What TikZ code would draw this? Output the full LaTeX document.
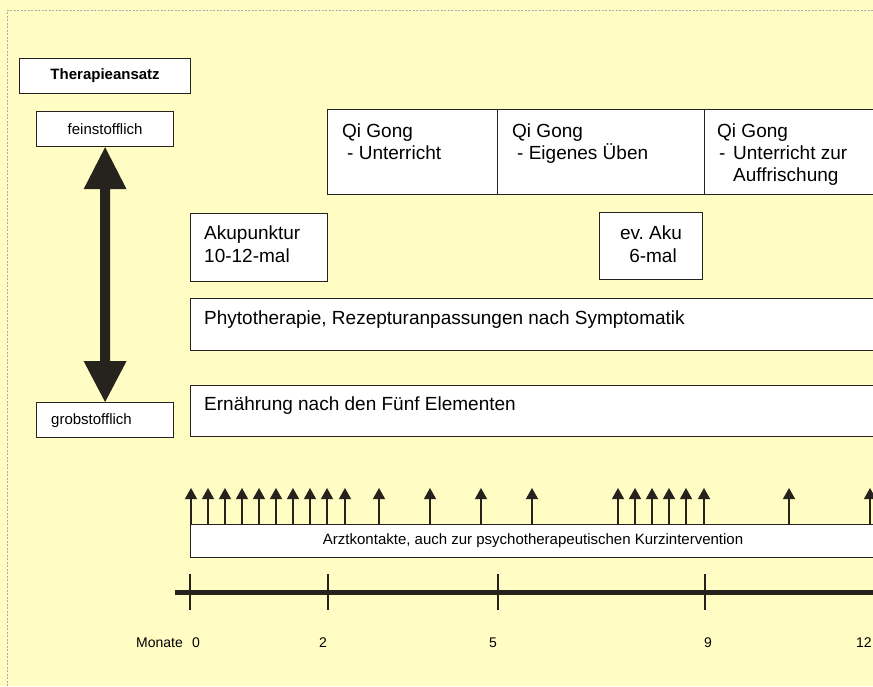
\documentclass[tikz,border=0pt]{standalone}
\usepackage{fontspec}
\setmainfont{Liberation Sans}
\usetikzlibrary{arrows.meta}
\definecolor{bgyellow}{RGB}{255,252,196}
\definecolor{ink}{RGB}{38,34,30}
\frenchspacing
\begin{document}
\begin{tikzpicture}[x=1pt,y=-1pt,
  box/.style={draw=ink, line width=1.2pt, fill=white, inner sep=0pt, anchor=north west},
  bigtxt/.style={font=\fontsize{19}{23}\selectfont, inner sep=0pt, anchor=base west},
  smalltxt/.style={font=\fontsize{15}{18}\selectfont, inner sep=0pt},
  axistxt/.style={font=\fontsize{14}{17}\selectfont, inner sep=0pt, anchor=base},
  contact/.style={draw=ink, line width=1.3pt, -{Triangle[width=12pt,length=11pt]}},
  tick/.style={draw=ink, line width=1.1pt},
]
\useasboundingbox (0,0) rectangle (873,686);
\fill[bgyellow] (0,0) rectangle (873,686);
\clip (0,0) rectangle (873,686);
\draw[gray!65, line width=0.8pt, dash pattern=on 2pt off 1.5pt] (7,686) -- (7,10) -- (873,10);

% left column
\node[box, smalltxt, font=\fontsize{15}{18}\selectfont\bfseries, minimum width=171pt, minimum height=35pt] (ansatz) at (19,58) {Therapieansatz};
\node[box, smalltxt, minimum width=137pt, minimum height=35pt] (fein) at (36,111) {feinstofflich};
\node[box, minimum width=137pt, minimum height=35pt] (grob) at (36,402) {};
\node[smalltxt, anchor=base west] (grobtxt) at (51,424) {grobstofflich};

% double arrow
\coordinate (T) at (fein.south);
\coordinate (B) at (grob.north);
\fill[ink] (T) -- ([shift={(21.5,42)}]T) -- ([shift={(5,42)}]T)
  -- ([shift={(5,-41)}]B) -- ([shift={(21.5,-41)}]B) -- (B)
  -- ([shift={(-21.5,-41)}]B) -- ([shift={(-5,-41)}]B)
  -- ([shift={(-5,42)}]T) -- ([shift={(-21.5,42)}]T) -- cycle;

% Qi Gong
\node[box, minimum width=170pt, minimum height=85pt] (qi1) at (327,109) {};
\node[box, minimum width=207pt, minimum height=85pt] (qi2) at (497,109) {};
\node[box, minimum width=175pt, minimum height=85pt] (qi3) at (704,109) {};
\node[bigtxt] (qi1a) at (342,137) {Qi Gong};
\node[bigtxt] (qi1b) at (347,159) {- Unterricht};
\node[bigtxt] (qi2a) at (512,137) {Qi Gong};
\node[bigtxt] (qi2b) at (517,159) {- Eigenes Üben};
\node[bigtxt] (qi3a) at (717,137) {Qi Gong};
\node[bigtxt] (qi3b) at (719,159) {-};
\node[bigtxt] (qi3c) at (733,159) {Unterricht zur};
\node[bigtxt] (qi3d) at (733,181) {Auffrischung};

% Akupunktur
\node[box, minimum width=137pt, minimum height=68pt] (aku) at (190,213) {};
\node[bigtxt] (akua) at (204,239) {Akupunktur};
\node[bigtxt] (akub) at (204,262) {10-12-mal};
\node[box, minimum width=103pt, minimum height=67pt] (evaku) at (599,212) {};
\node[bigtxt, anchor=base] (evakua) at (651,239) {ev.\ Aku};
\node[bigtxt, anchor=base] (evakub) at (653,262) {6-mal};

% Phyto / Ernaehrung
\node[box, minimum width=685pt, minimum height=52pt] (phyto) at (190,298) {};
\node[bigtxt] (phytot) at (204,324) {Phytotherapie, Rezepturanpassungen nach Symptomatik};
\node[box, minimum width=685pt, minimum height=51pt] (ern) at (190,385) {};
\node[bigtxt] (ernt) at (204,410) {Ernährung nach den Fünf Elementen};

% Arztkontakte
\node[box, smalltxt, minimum width=685pt, minimum height=33pt] (arzt) at (190,524) {Arztkontakte, auch zur psychotherapeutischen Kurzintervention};
\foreach \x [count=\i] in {191,208,225,242,259,276,293,310,327,345,379,430,481,532,618,635,652,669,686,704,789,870}{
  \coordinate (tip\i) at (\x,488);
  \draw[contact] (tip\i |- arzt.north) -- (tip\i);
}

% time axis
\coordinate (axL) at (175,592);
\coordinate (axR) at (880,592);
\draw[ink, line width=5pt] (axL) -- (axR);
\foreach \x in {190,328,498,705}{
  \draw[tick] (\x,574) -- (\x,610);
}
\node[axistxt, anchor=base east] (monate) at (183,647) {Monate};
\node[axistxt] (m0) at (196,647) {0};
\node[axistxt] (m2) at (323,647) {2};
\node[axistxt] (m5) at (493,647) {5};
\node[axistxt] (m9) at (708,647) {9};
\node[axistxt, anchor=base west] (m12) at (856,647) {12};
\end{tikzpicture}
\end{document}
